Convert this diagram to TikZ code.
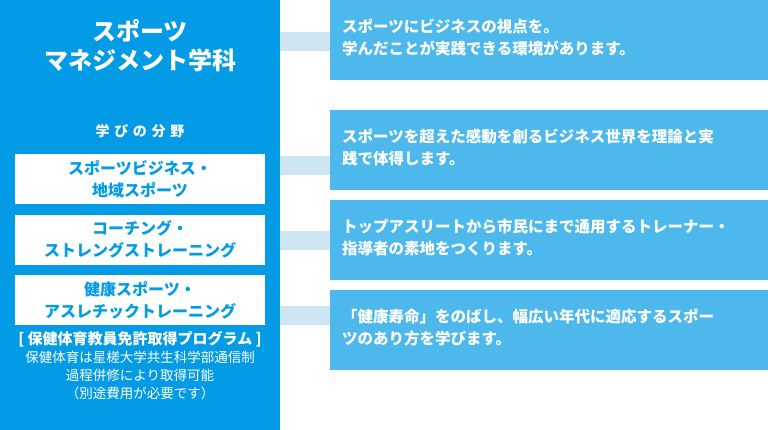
\documentclass[tikz,border=0pt]{standalone}
\usepackage{fontspec}
\setmainfont{Noto Sans CJK JP}
\usetikzlibrary{positioning}
\definecolor{mBlue}{HTML}{039BE5}
\definecolor{mSky}{HTML}{4DB8EC}
\definecolor{mPale}{HTML}{CDE6F2}
\tikzset{
  x=1pt, y=-1pt,
  panel/.style={fill=mBlue, minimum width=280pt, minimum height=430pt, inner sep=0pt},
  field/.style={fill=white, text=mBlue, minimum width=250pt, minimum height=50pt, inner sep=0pt, align=center, font=\fontsize{16}{22}\selectfont\bfseries},
  info/.style={fill=mSky, minimum width=438pt, minimum height=80pt, inner sep=0pt},
  infotext/.style={text=white, anchor=north west, inner sep=0pt, align=left, font=\fontsize{15.5}{22}\selectfont\bfseries},
  wtext/.style={text=white, align=center, inner sep=0pt},
  bar/.style={mPale, line width=19pt}
}
\begin{document}
\begin{tikzpicture}
  \useasboundingbox (0,0) rectangle (768,430);
  \node[panel, anchor=north west] (panel) at (0,0) {};
  \node[wtext, font=\fontsize{24}{29}\selectfont\bfseries] (title) at (140,46) {スポーツ\\マネジメント学科};
  \node[wtext, font=\fontsize{14}{16}\selectfont\bfseries] (learn) at (140,131) {学\,\,び\,\,の\,\,分\,\,野};
  \node[field, anchor=north] (sub1) at (140,154) {スポーツビジネス・\\地域スポーツ};
  \node[field, below=10pt of sub1] (sub2) {コーチング・\\ストレングストレーニング};
  \node[field, below=10pt of sub2] (sub3) {健康スポーツ・\\アスレチックトレーニング};
  \node[wtext, font=\fontsize{15}{17}\selectfont\bfseries, below=6pt of sub3] (prog) {[ 保健体育教員免許取得プログラム ]};
  \node[wtext, font=\fontsize{13.5}{18}\selectfont, below=4pt of prog] (note) {保健体育は星槎大学共生科学部通信制\\過程併修により取得可能\\（別途費用が必要です）};

  \node[info, anchor=north west] (info1) at (330,0) {};
  \node[info, anchor=north west] (info2) at (330,110) {};
  \node[info, anchor=north west] (info3) at (330,200) {};
  \node[info, anchor=north west] (info4) at (330,290) {};
  \node[infotext] (text1) at (342,19) {スポーツにビジネスの視点を。\\学んだことが実践できる環境があります。};
  \node[infotext] (text2) at (342,129) {スポーツを超えた感動を創るビジネス世界を理論と実\\践で体得します。};
  \node[infotext] (text3) at (342,219) {トップアスリートから市民にまで通用するトレーナー・\\指導者の素地をつくります。};
  \node[infotext] (text4) at (342,309) {「健康寿命」をのばし、幅広い年代に適応するスポー\\ツのあり方を学びます。};

  \draw[bar] ([yshift=-1pt]panel.east |- info1) -- ([yshift=-1pt]info1.west);
  \draw[bar] ([yshift=14pt]panel.east |- sub1) -- ([yshift=14pt]info2.west |- sub1);
  \draw[bar] (panel.east |- info3) -- (info3.west);
  \draw[bar] ([yshift=15pt]panel.east |- info4) -- ([yshift=15pt]info4.west);
\end{tikzpicture}
\end{document}
